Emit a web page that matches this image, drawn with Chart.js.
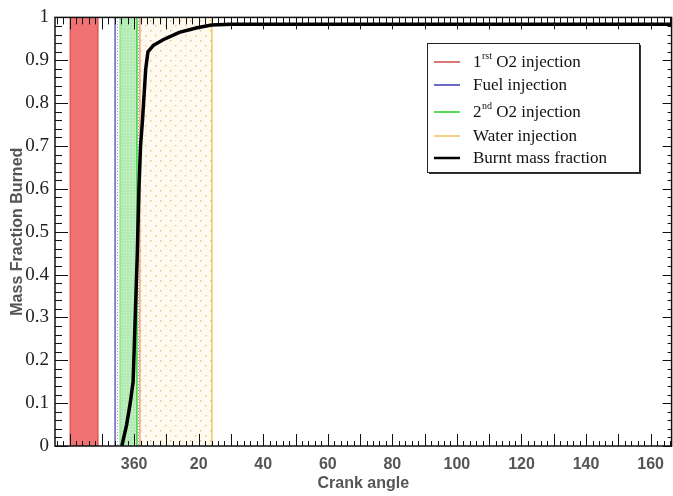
<!DOCTYPE html>
<html>
<head>
<meta charset="utf-8">
<script src="https://cdn.jsdelivr.net/npm/chart.js@4.4.0/dist/chart.umd.min.js"></script>
<style>
  html, body { margin: 0; padding: 0; background: #fff; }
  #wrap { width: 673px; height: 496px; }
</style>
</head>
<body>
<div id="wrap"><canvas id="massChart" width="673" height="496"></canvas></div>
<script>
// crank angle in degrees, 0 is TDC (shown as 360)
var burnAngle = [-3.8, -2.3, -1.2, -0.3, 0.3, 1.0, 1.5, 2.0, 2.6, 3.1, 3.6, 4.3, 6, 9, 14, 19.5, 24, 30, 166.5];
var burnFraction = [0, 0.05, 0.1, 0.15, 0.29, 0.45, 0.6, 0.7, 0.76, 0.82, 0.88, 0.92, 0.935, 0.948, 0.965, 0.976, 0.982, 0.984, 0.984];

// injection windows [start, end]
var o2FirstRange = [-19.8, -11.2];
var fuelRange = [-5.9, 1.8];
var o2SecondRange = [-4.4, 0.9];
var waterRange = [1.8, 24.1];

var xTickValues = [0, 20, 40, 60, 80, 100, 120, 140, 160];
var xTickLabels = ["360", "20", "40", "60", "80", "100", "120", "140", "160"];
var yTickValues = [0, 0.1, 0.2, 0.3, 0.4, 0.5, 0.6, 0.7, 0.8, 0.9, 1];
var yTickLabels = ["0", "0.1", "0.2", "0.3", "0.4", "0.5", "0.6", "0.7", "0.8", "0.9", "1"];

var legendMain = ["1", "Fuel injection", "2", "Water injection", "Burnt mass fraction"];
var legendSup = ["rst", "", "nd", "", ""];
var legendRest = [" O2 injection", "", " O2 injection", "", ""];
var legendColors = ["#d04848", "#3a3ab0", "#22cc22", "#f0c060", "#000000"];

var canvas = document.getElementById("massChart");
var ctx = canvas.getContext("2d");

function dotPattern(bg, dot, step, size, stagger) {
  var c = document.createElement("canvas");
  c.width = step;
  c.height = step;
  var g = c.getContext("2d");
  g.fillStyle = bg;
  g.fillRect(0, 0, step, step);
  g.fillStyle = dot;
  g.fillRect(0, 0, size, size);
  if (stagger) g.fillRect(step / 2, step / 2, size, size);
  return ctx.createPattern(c, "repeat");
}

// edges = [left, top, right] colours
function band(range, fillStyle, edges, order) {
  return {
    data: [
      { x: range[0], y: 0 },
      { x: range[0], y: 1 },
      { x: range[1], y: 1 },
      { x: range[1], y: 0 }
    ],
    showLine: true,
    fill: "origin",
    backgroundColor: fillStyle,
    borderWidth: 1.2,
    borderColor: edges[0],
    segment: {
      borderColor: function(c) {
        return edges[c.p0DataIndex] || "rgba(0,0,0,0)";
      }
    },
    pointRadius: 0,
    tension: 0,
    order: order
  };
}

var frameTicks = {
  id: "frameTicks",
  afterDatasetsDraw: function(chart) {
    var a = chart.chartArea;
    var xs = chart.scales.x;
    var ys = chart.scales.y;
    var c = chart.ctx;
    c.save();
    c.strokeStyle = "#111";
    c.lineWidth = 1;
    c.beginPath();
    for (var k = -12; k <= 84; k++) {
      var v = k * 2;
      if (v < xs.min || v > xs.max) continue;
      var px = Math.round(xs.getPixelForValue(v)) + 0.5;
      var major = v % 10 === 0;
      c.moveTo(px, a.bottom);
      c.lineTo(px, a.bottom - (major ? 12 : 5));
      c.moveTo(px, a.top);
      c.lineTo(px, a.top + (major ? 12 : 7));
    }
    for (var j = 0; j <= 50; j++) {
      var py = Math.round(ys.getPixelForValue(j / 50)) + 0.5;
      var big = j % 5 === 0;
      c.moveTo(a.left, py);
      c.lineTo(a.left + (big ? 13 : 7), py);
      c.moveTo(a.right, py);
      c.lineTo(a.right - (big ? 9 : 4), py);
    }
    c.stroke();
    c.lineWidth = 1.5;
    c.strokeRect(a.left, a.top, a.right - a.left, a.bottom - a.top);
    c.restore();
  }
};

var boxLegend = {
  id: "boxLegend",
  afterDraw: function(chart) {
    var c = chart.ctx;
    var bx = 427, by = 43, bw = 212, bh = 129;
    var rows = [62, 85, 112, 136, 158];
    c.save();
    c.fillStyle = "#333";
    c.fillRect(bx + 2, by + 2, bw, bh);
    c.fillStyle = "#fff";
    c.fillRect(bx, by, bw, bh);
    c.strokeStyle = "#222";
    c.lineWidth = 1;
    c.strokeRect(bx + 0.5, by + 0.5, bw, bh);
    for (var i = 0; i < legendMain.length; i++) {
      var y = rows[i];
      c.strokeStyle = legendColors[i];
      c.lineWidth = i === 4 ? 2.5 : 1.5;
      c.beginPath();
      c.moveTo(434, y);
      c.lineTo(460, y);
      c.stroke();
      c.fillStyle = "#111";
      c.textBaseline = "middle";
      c.font = '17px "Liberation Serif", "Times New Roman", serif';
      var tx = 473;
      c.fillText(legendMain[i], tx, y + 1);
      tx += c.measureText(legendMain[i]).width;
      if (legendSup[i]) {
        c.font = '10px "Liberation Serif", "Times New Roman", serif';
        c.fillText(legendSup[i], tx + 0.5, y - 6);
        tx += c.measureText(legendSup[i]).width + 0.5;
        c.font = '17px "Liberation Serif", "Times New Roman", serif';
        c.fillText(legendRest[i], tx, y + 1);
      }
    }
    c.restore();
  }
};

var burnPoints = burnAngle.map(function(v, i) {
  return { x: v, y: burnFraction[i] };
});

var sansBold = { family: '"Liberation Sans", Arial, sans-serif', size: 16, weight: "bold" };

new Chart(ctx, {
  type: "scatter",
  data: {
    datasets: [
      {
        label: "Burnt mass fraction",
        data: burnPoints,
        showLine: true,
        borderColor: "#000",
        borderWidth: 3.5,
        pointRadius: 0,
        tension: 0,
        fill: false,
        order: 0
      },
      band(waterRange, dotPattern("#fffaf0", "rgba(225,180,100,0.75)", 10, 1.5, true),
        ["#e49a5a", null, "#f2b441"], 1),
      band(o2SecondRange, dotPattern("#b4eab4", "#d6f7d6", 3, 1, false),
        ["rgba(60,200,60,0.5)", null, "#18c818"], 2),
      band(fuelRange, dotPattern("#ffffff", "rgba(90,90,210,0.6)", 3, 1, false),
        ["#3a3ab0", null, null], 3),
      band(o2FirstRange, "#f07272", ["#d04848", null, "#d04848"], 4)
    ]
  },
  options: {
    responsive: false,
    animation: false,
    events: [],
    layout: { padding: { top: 13, right: 1, left: 0, bottom: 0 } },
    plugins: {
      legend: { display: false },
      tooltip: { enabled: false }
    },
    scales: {
      x: {
        type: "linear",
        min: -24.5,
        max: 166.5,
        grid: { display: false, drawTicks: false },
        border: { display: false },
        afterBuildTicks: function(scale) {
          scale.ticks = xTickValues.map(function(v) { return { value: v }; });
        },
        afterFit: function(scale) { scale.height = 50; },
        ticks: {
          autoSkip: false,
          maxRotation: 0,
          padding: 9,
          color: "#555",
          font: sansBold,
          callback: function(value, index) { return xTickLabels[index]; }
        },
        title: {
          display: true,
          text: "Crank angle",
          color: "#555",
          font: sansBold,
          padding: { top: 0, bottom: 3 }
        }
      },
      y: {
        type: "linear",
        min: 0,
        max: 1,
        grid: { display: false, drawTicks: false },
        border: { display: false },
        afterBuildTicks: function(scale) {
          scale.ticks = yTickValues.map(function(v) { return { value: v }; });
        },
        afterFit: function(scale) { scale.width = 55; },
        ticks: {
          autoSkip: false,
          padding: 6,
          color: "#222",
          font: { family: '"Liberation Serif", "Times New Roman", serif', size: 19 },
          callback: function(value, index) { return yTickLabels[index]; }
        },
        title: {
          display: true,
          text: "Mass Fraction Burned",
          color: "#555",
          font: sansBold,
          padding: { top: 8, bottom: 0 }
        }
      }
    }
  },
  plugins: [frameTicks, boxLegend]
});
</script>
</body>
</html>
